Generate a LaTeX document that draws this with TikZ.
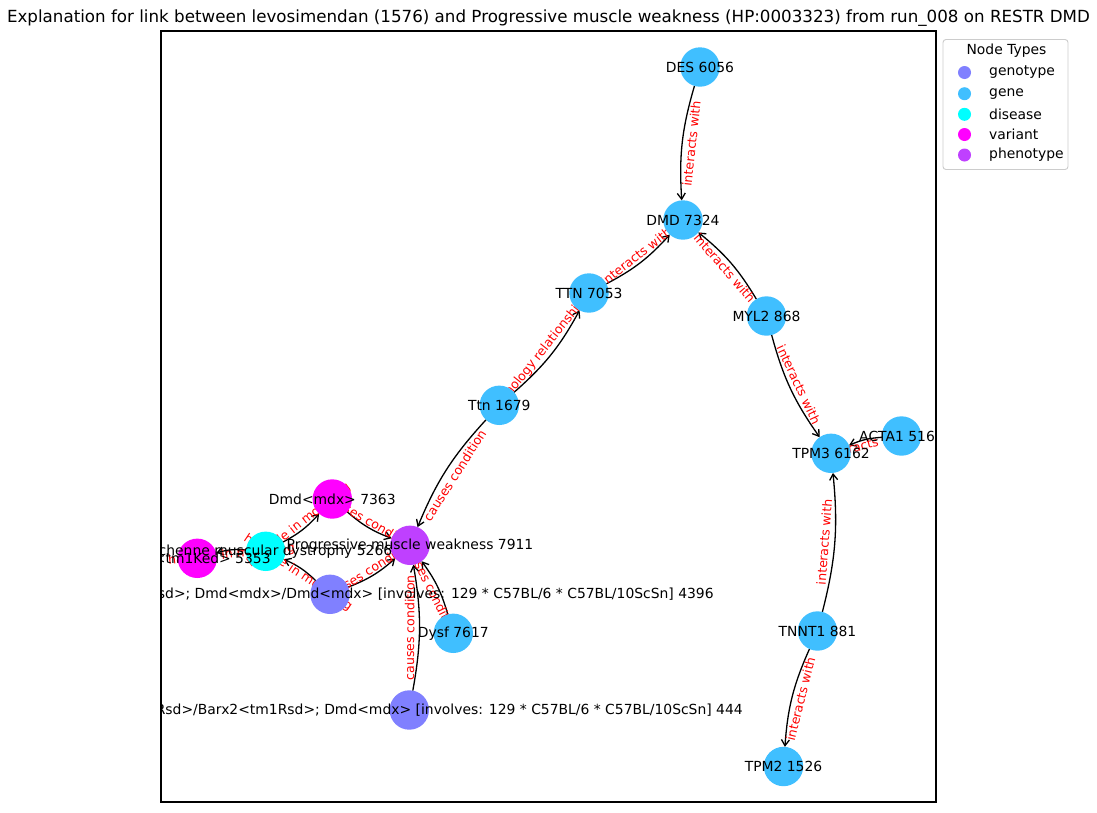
\documentclass[tikz,border=0pt]{standalone}
\usepackage{fontspec}
\setmainfont{DejaVu Sans}
\usetikzlibrary{arrows.meta}

% drawing order: page, connectors, connector texts, circles, node texts
\pgfdeclarelayer{pagelayer}
\pgfdeclarelayer{edgelayer}
\pgfdeclarelayer{elabellayer}
\pgfdeclarelayer{textlayer}
\pgfsetlayers{pagelayer,edgelayer,elabellayer,main,textlayer}

\definecolor{cgenotype}{rgb}{0.5,0.5,1}
\definecolor{cgene}{rgb}{0.25,0.75,1}
\definecolor{cdisease}{rgb}{0,1,1}
\definecolor{cvariant}{rgb}{1,0,1}
\definecolor{cphenotype}{rgb}{0.75,0.25,1}
\definecolor{legendframe}{gray}{0.8}

\tikzset{
  vertex/.style={circle, minimum size=39.4pt, inner sep=0pt, outer sep=0pt, draw=none},
  ntext/.style={font=\fontsize{13.9}{16}\selectfont, inner sep=0pt, text=black},
  etext/.style={font=\fontsize{12.5}{14}\selectfont, inner sep=0pt, text=red, sloped, midway},
  link/.style={-{Straight Barb[length=6pt,width=8pt]}, line width=1.3pt, bend right=10},
  legtext/.style={font=\fontsize{13.9}{16}\selectfont, inner sep=0pt, anchor=west},
  legdot/.style={circle, minimum size=13pt, inner sep=0pt, draw=none},
}

\begin{document}
\begin{tikzpicture}[x=1pt, y=-1pt]
\useasboundingbox (0,0) rectangle (1097,812);
\begin{pgfonlayer}{pagelayer}
\fill[white] (0,0) rectangle (1097,812);
\end{pgfonlayer}

% title
\node[font=\fontsize{16.7}{20}\selectfont, inner sep=0pt] (title) at (548.5,18)
  {Explanation for link between levosimendan (1576) and Progressive muscle weakness (HP:0003323) from run\_008 on RESTR DMD};

% plot frame
\node[draw=black, line width=1.1pt, minimum width=775pt, minimum height=771pt, inner sep=0pt] (frame) at (548.5,416.5) {};

% nodes
\node[vertex, fill=cgene] (des) at (700,67) {};
\node[vertex, fill=cgene] (dmd) at (683,220) {};
\node[vertex, fill=cgene] (ttnh) at (589,293) {};
\node[vertex, fill=cgene] (myl2) at (766.5,316) {};
\node[vertex, fill=cgene] (ttnm) at (499.3,405.3) {};
\node[vertex, fill=cgene] (tpm3) at (831,453.3) {};
\node[vertex, fill=cgene] (acta1) at (901.5,436) {};
\node[vertex, fill=cgene] (tnnt1) at (817.5,631) {};
\node[vertex, fill=cgene] (tpm2) at (783.5,766.5) {};
\node[vertex, fill=cvariant] (mdx) at (332.3,499) {};
\node[vertex, fill=cphenotype] (pmw) at (410,545.3) {};
\node[vertex, fill=cdisease] (dmdis) at (265.7,551.3) {};
\node[vertex, fill=cvariant] (ked) at (197.3,558.3) {};
\node[vertex, fill=cgenotype] (gtA) at (330,594.3) {};
\node[vertex, fill=cgene] (dysf) at (453.3,633.3) {};
\node[vertex, fill=cgenotype] (gtB) at (409.3,710) {};

% connectors
\begin{pgfonlayer}{edgelayer}
\draw[link] (des) to (dmd);
\draw[link] (ttnh) to (dmd);
\draw[link] (myl2) to (dmd);
\draw[link] (myl2) to (tpm3);
\draw[link] (acta1) to (tpm3);
\draw[link] (tnnt1) to (tpm3);
\draw[link] (tnnt1) to (tpm2);
\draw[link] (ttnm) to (ttnh);
\draw[link] (ttnm) to (pmw);
\draw[link] (mdx) to (pmw);
\draw[link] (gtA) to (pmw);
\draw[link] (dysf) to (pmw);
\draw[link] (gtB) to (pmw);
\draw[link] (dmdis) to (mdx);
\draw[link] (gtA) to (dmdis);
\draw[link] (dmdis) to (ked);
\end{pgfonlayer}

% connector texts
\begin{pgfonlayer}{elabellayer}
\clip (161,31) rectangle (936,802);
\path (des.center) -- node[etext] (l1) {interacts with} (dmd.center);
\path (ttnh.center) -- node[etext] (l2) {interacts with} (dmd.center);
\path (myl2.center) -- node[etext] (l3) {interacts with} (dmd.center);
\path (myl2.center) -- node[etext] (l4) {interacts with} (tpm3.center);
\path (acta1.center) -- node[etext] (l5) {interacts with} (tpm3.center);
\path (tnnt1.center) -- node[etext] (l6) {interacts with} (tpm3.center);
\path (tnnt1.center) -- node[etext] (l7) {interacts with} (tpm2.center);
\path (ttnm.center) -- node[etext] (l8) {in orthology relationship with} (ttnh.center);
\path (ttnm.center) -- node[etext] (l9) {causes condition} (pmw.center);
\path (mdx.center) -- node[etext] (l10) {causes condition} (pmw.center);
\path (gtA.center) -- node[etext] (l11) {causes condition} (pmw.center);
\path (dysf.center) -- node[etext] (l12) {causes condition} (pmw.center);
\path (gtB.center) -- node[etext] (l13) {causes condition} (pmw.center);
\path (dmdis.center) -- node[etext] (l14) {has role in modeling} (mdx.center);
\path (gtA.center) -- node[etext] (l15) {has role in modeling} (dmdis.center);
\path (dmdis.center) -- node[etext] (l16) {has role in modeling} (ked.center);
\end{pgfonlayer}

% node texts
\begin{pgfonlayer}{textlayer}
\clip (161,31) rectangle (936,802);
\node[ntext] (des-t) at (des) {DES 6056};
\node[ntext] (dmd-t) at (dmd) {DMD 7324};
\node[ntext] (ttnh-t) at (ttnh) {TTN 7053};
\node[ntext] (myl2-t) at (myl2) {MYL2 868};
\node[ntext] (ttnm-t) at (ttnm) {Ttn 1679};
\node[ntext] (tpm3-t) at (tpm3) {TPM3 6162};
\node[ntext] (acta1-t) at (acta1) {ACTA1 5160};
\node[ntext] (tnnt1-t) at (tnnt1) {TNNT1 881};
\node[ntext] (tpm2-t) at (tpm2) {TPM2 1526};
\node[ntext] (mdx-t) at (mdx) {Dmd<mdx> 7363};
\node[ntext] (pmw-t) at (pmw) {Progressive muscle weakness 7911};
\node[ntext] (dmdis-t) at (dmdis) {Duchenne muscular dystrophy 5266};
\node[ntext] (ked-t) at (ked) {Utrn<tm1Ked> 5353};
\node[ntext] (gtA-t) at (gtA) {Barx2<tm1Rsd>/Barx2<tm1Rsd>; Dmd<mdx>/Dmd<mdx> [involves: 129 * C57BL/6 * C57BL/10ScSn] 4396};
\node[ntext] (dysf-t) at (dysf) {Dysf 7617};
\node[ntext] (gtB-t) at (gtB) {Barx2<tm1Rsd>/Barx2<tm1Rsd>; Dmd<mdx> [involves: 129 * C57BL/6 * C57BL/10ScSn] 444};
\end{pgfonlayer}

% legend
\node[draw=legendframe, fill=white, line width=0.9pt, rounded corners=3pt,
      minimum width=125pt, minimum height=130pt, inner sep=0pt] (legend) at (1005.5,104.5) {};
\node[ntext] (legtitle) at (1006.5,51) {Node Types};
\node[legdot, fill=cgenotype]  (d1) at (964.5,72.5) {};
\node[legdot, fill=cgene]      (d2) at (964.5,93.7) {};
\node[legdot, fill=cdisease]   (d3) at (964.5,114.3) {};
\node[legdot, fill=cvariant]   (d4) at (964.5,134.5) {};
\node[legdot, fill=cphenotype] (d5) at (964.5,155) {};
\node[legtext] (t1) at (989,72.5) {genotype};
\node[legtext] (t2) at (989,93.7) {gene};
\node[legtext] (t3) at (989,114.3) {disease};
\node[legtext] (t4) at (989,134.5) {variant};
\node[legtext] (t5) at (989,155) {phenotype};
\end{tikzpicture}
\end{document}
